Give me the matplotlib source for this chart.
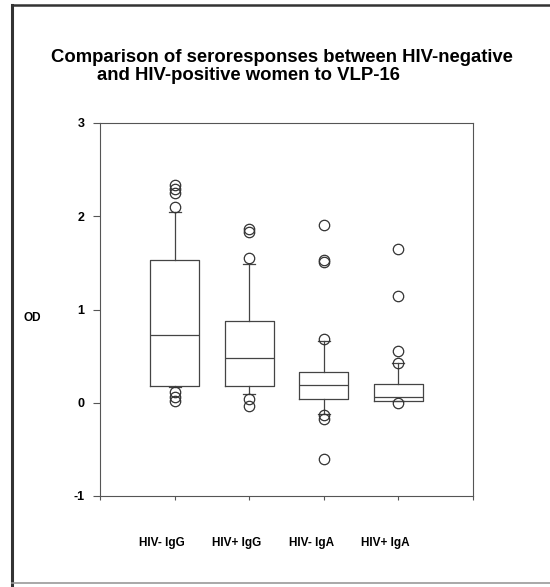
import matplotlib
matplotlib.use("Agg")
import matplotlib.pyplot as plt
from matplotlib.lines import Line2D

plt.rcParams["font.family"] = ["Liberation Sans", "DejaVu Sans"]

# summary statistics per group (optical density)
groups = ["HIV- IgG", "HIV+ IgG", "HIV- IgA", "HIV+ IgA"]
q1 = [0.18, 0.18, 0.04, 0.02]
med = [0.73, 0.48, 0.19, 0.06]
q3 = [1.53, 0.88, 0.33, 0.20]
whis_lo = [0.17, 0.09, -0.12, 0.02]
whis_hi = [2.05, 1.49, 0.66, 0.43]
outliers = [
    [2.34, 2.29, 2.25, 2.10, 0.11, 0.06, 0.02],
    [1.86, 1.83, 1.55, 0.04, -0.03],
    [1.91, 1.53, 1.51, 0.68, -0.13, -0.17, -0.60],
    [1.65, 1.15, 0.56, 0.43, 0.00],
]

stats = []
for i, name in enumerate(groups):
    stats.append({"label": name, "q1": q1[i], "med": med[i], "q3": q3[i],
                  "whislo": whis_lo[i], "whishi": whis_hi[i],
                  "fliers": outliers[i]})

fig = plt.figure(figsize=(5.5, 5.87), dpi=100)
ax = fig.add_axes([100 / 550, 1 - 496 / 587, 373 / 550, 373 / 587])

line_col = "#444444"
ax.bxp(stats, positions=[1, 2, 3, 4], widths=0.66, capwidths=0.16,
       boxprops=dict(color=line_col, lw=0.9),
       medianprops=dict(color=line_col, lw=0.9),
       whiskerprops=dict(color=line_col, lw=0.9),
       capprops=dict(color=line_col, lw=0.9),
       flierprops=dict(marker="o", markersize=7.5, markerfacecolor="none",
                       markeredgecolor="#333333", markeredgewidth=0.9))

ax.set_xlim(0, 5)
ax.set_ylim(-1, 3)
ax.set_xticks([0, 1, 2, 3, 4, 5])
ax.set_xticklabels([])
ax.set_yticks([-1, 0, 1, 2, 3])
ax.set_yticklabels(["-1", "0", "1", "2", "3"], fontsize=9, fontweight="bold")
ax.tick_params(axis="y", length=5, width=0.8, color="#555555", pad=6)
ax.tick_params(axis="x", length=3, width=0.8, color="#555555")
for s in ax.spines.values():
    s.set_color("#555555")
    s.set_linewidth(0.8)

# group names sit under the axis, a little left of each box
for i, name in enumerate(groups):
    ax.text(i + 1 - 0.17, -0.126, name, transform=ax.get_xaxis_transform(),
            ha="center", va="center", fontsize=8.5, fontweight="bold")

fig.text(32 / 550, 1 - 318 / 587, "OD", ha="center", va="center",
         fontsize=8.5, fontweight="bold")

fig.text(51 / 550, 1 - 57 / 587, "Comparison of seroresponses between HIV-negative",
         ha="left", va="center", fontsize=13.3, fontweight="bold")
fig.text(97 / 550, 1 - 75 / 587, "and HIV-positive women to VLP-16",
         ha="left", va="center", fontsize=13.3, fontweight="bold")

# outer frame
fig.add_artist(Line2D([12 / 550, 12 / 550], [0, 1 - 5 / 587],
                      transform=fig.transFigure, color="#333333", lw=2.2))
fig.add_artist(Line2D([12 / 550, 1], [1 - 5 / 587, 1 - 5 / 587],
                      transform=fig.transFigure, color="#333333", lw=1.8))
fig.add_artist(Line2D([12 / 550, 1], [1 - 583 / 587, 1 - 583 / 587],
                      transform=fig.transFigure, color="#999999", lw=1.2))

fig.savefig("out.png", dpi=100)
